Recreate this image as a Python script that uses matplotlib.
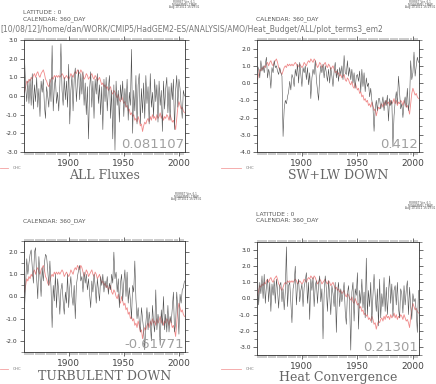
import numpy as np
import matplotlib
matplotlib.use("Agg")
import matplotlib.pyplot as plt
from matplotlib.ticker import MultipleLocator, FormatStrFormatter

years = list(range(1860, 2006))

ohc = [0.2, 0.5, 0.8, 0.7, 0.9, 0.8, 1.0, 0.9, 1.1, 1.2,
       1.0, 1.2, 1.3, 1.1, 1.0, 1.2, 1.3, 1.4, 1.2, 0.9,
       0.8, 0.6, 0.5, 0.7, 0.9, 1.0, 0.9, 1.1, 1.0, 1.1,
       1.0, 1.1, 1.0, 1.1, 1.2, 1.1, 0.9, 1.0, 1.1, 1.0,
       0.9, 1.0, 1.2, 1.1, 1.0, 1.2, 1.3, 1.2, 1.4, 1.3,
       1.2, 1.4, 1.3, 1.1, 0.9, 1.0, 1.2, 1.1, 0.9, 1.0,
       1.1, 1.2, 1.0, 0.9, 1.1, 1.0, 0.8, 0.9, 1.0, 0.8,
       0.6, 0.7, 0.5, 0.6, 0.4, 0.5, 0.3, 0.4, 0.5, 0.2,
       0.1, 0.3, 0.2, 0.0, -0.1, 0.1, -0.2, -0.3, 0.0, -0.2,
       -0.4, -0.3, -0.6, -0.5, -0.8, -0.7, -1.0, -0.9, -1.1, -1.0,
       -1.3, -1.2, -1.4, -1.1, -1.3, -1.6, -1.5, -1.9, -1.6, -1.4,
       -1.5, -1.3, -1.2, -1.4, -1.1, -1.3, -1.0, -1.2, -1.1, -1.3,
       -1.0, -1.2, -1.1, -0.9, -1.2, -1.0, -1.3, -1.1, -1.2, -1.0,
       -1.1, -1.3, -1.0, -1.2, -1.4, -1.3, -1.5, -1.8, -1.2, -0.6,
       -0.3, -0.5, -0.7, -0.6, -0.8, -0.9]

all_fluxes = [2.0, 0.5, -0.3, 0.8, -0.4, 0.9, -0.5, 1.2, -0.7, 0.6,
              -0.3, 1.0, -0.6, 0.4, -1.1, 0.8, 0.2, 0.9, -0.5, -1.2,
              0.5, 0.0, -0.6, 0.9, -0.3, 2.7, -0.8, 0.5, 1.0, -0.4,
              0.2, -0.8, 0.6, 2.8, 0.3, -0.5, 1.0, -0.2, 0.8, -0.6,
              1.7, -1.5, 0.3, 1.1, -0.8, 0.9, 1.5, -0.3, 0.7, 1.4,
              -0.2, 1.2, 0.1, 1.3, -0.5, 0.7, -1.0, 0.5, -2.3, 0.4,
              1.3, -0.6, 0.8, -1.2, 0.9, 0.1, 1.2, -0.4, 0.6, -1.0,
              0.5, -1.8, 0.9, -0.3, 1.0, -0.8, 0.4, 1.1, -1.2, 0.3,
              -2.3, 0.6, -2.9, 0.8, -0.5, 0.3, -1.4, 0.6, -0.2, 0.8,
              -1.1, 0.4, -0.6, 0.9, -1.3, 0.2, -0.5, 2.5, -2.0, 0.3,
              -0.8, 1.1, -1.5, 0.6, 1.2, -1.5, 0.4, -0.9, 0.7, -1.2,
              1.1, -0.4, 0.5, -1.5, 1.2, -0.6, 0.2, -1.1, 0.9, -0.3,
              0.6, -1.4, 0.8, -0.5, 0.3, -1.9, 0.8, -0.7, 0.4, 1.0,
              -0.9, 0.5, -1.3, 0.7, -0.2, 0.9, -1.8, 0.3, 1.1, -0.6,
              0.9, 0.4, -0.5, -1.2, 0.3, 0.0]

swlw_down = [1.0, 0.8, 0.3, 1.3, 0.7, 1.0, 0.6, 1.1, 1.5, 0.3,
             0.8, 0.5, -0.3, 0.9, 0.6, 1.3, 0.9, 1.0, 0.7, 0.5,
             0.9, 0.6, 0.4, -3.1, -1.5, -1.0, -1.2, -0.8, -0.5, 0.1,
             -0.4, 0.5, 0.3, -0.2, 0.8, 0.4, 1.1, 0.0, 1.2, 0.5,
             -0.2, 0.9, 0.6, 1.0, 0.2, 0.9, -0.1, 0.6, -0.9, 0.3,
             0.8, 0.5, 1.3, 0.2, -0.4, -1.0, 0.4, 1.0, 0.6, 1.1,
             0.3, 1.0, 0.6, 0.1, 0.8, 0.0, 0.9, 0.4, -0.2, 0.7,
             1.2, 0.3, 0.8, 0.1, 0.9, 0.5, 1.0, 0.2, 1.6, 0.6,
             0.5, 1.3, 0.4, 0.9, 0.2, 0.8, 0.0, 0.6, -0.3, 0.4,
             0.5, 0.1, 0.7, -0.5, 0.8, -0.2, 0.6, -0.5, 0.3, -0.2,
             0.0, -0.8, -0.3, -1.0, -1.4, -2.8, -1.5, -1.0, -1.6, -0.9,
             -0.9, -1.5, -1.2, -0.8, -1.6, -1.0, -1.3, -0.7, -2.2, -0.9,
             -1.3, -1.0, -3.7, -1.9, -1.1, -0.5, -1.2, 0.4, -0.6, -1.5,
             -1.2, -2.0, -1.2, -0.8, -1.4, -0.3, -1.6, -1.0, 1.3, 0.2,
             0.6, 1.8, 0.4, 1.0, 1.5, 1.2]

turbulent_down = [-0.5, 0.6, 1.7, 1.0, 1.5, 1.9, 2.1, 1.3, 0.6, 2.0,
                  2.2, 0.8, -0.1, 1.8, 0.9, 0.0, 1.3, 0.7, 1.5, 1.9,
                  1.8, 1.2, 0.5, 1.6, 0.4, -1.4, 0.5, -0.2, 1.0, -0.5,
                  0.8, 0.2, -0.8, 0.3, 0.6, -0.2, -0.8, 0.2, -0.3, 1.0,
                  -0.5, 0.4, 0.9, 0.0, -0.4, 0.5, -1.0, 0.5, 0.9, 1.2,
                  1.4, 0.7, 0.9, 0.2, 1.1, 0.6, 1.0, 0.3, 0.8, 0.1,
                  -0.5, 0.7, 0.2, 1.0, 0.5, -0.3, 0.8, 0.3, -0.2, 0.9,
                  0.5, 1.0, 0.2, 0.7, 0.4, 0.9, 0.1, 0.6, 0.3, 1.0,
                  0.6, 2.0, 0.8, 1.1, 0.2, 0.8, -0.5, 0.6, 1.0, -0.2,
                  0.6, 1.2, 0.0, 1.1, -0.3, 0.4, -0.2, -1.0, 0.5, 0.2,
                  1.6, -0.1, -1.0, -0.5, -1.1, -1.6, -0.5, -1.0, -1.5, -2.4,
                  -1.2, -0.5, -1.5, -0.7, -1.2, -2.0, -0.4, -1.2, -1.6, 0.3,
                  -1.5, -0.8, -1.2, -2.2, -0.6, -1.3, 0.0, -1.5, -0.8, -1.6,
                  -0.4, -1.6, -0.9, -1.2, -0.5, 0.2, -1.6, -1.2, 0.2, -0.6,
                  -1.7, 0.1, -0.3, 0.3, 0.4, 0.7]

heat_conv = [1.3, -0.4, 1.0, 0.3, 1.4, 0.0, 1.5, -0.3, 0.8, 1.2,
             -0.2, 1.0, -0.8, 0.9, 0.2, 1.1, -0.3, 1.2, 0.5, -0.6,
             0.8, 1.0, -0.2, 0.6, -0.7, 0.4, 3.2, -0.5, 0.8, 1.0,
             -0.3, -1.5, 0.6, 1.0, 2.0, -0.4, 0.8, 1.2, -0.2, 0.5,
             0.9, -0.5, 0.7, 1.1, 1.6, -0.3, 1.0, -1.3, 1.2, 0.5,
             1.3, -0.5, 0.8, 1.1, -0.3, 0.9, 1.4, -0.2, 0.6, -2.5,
             0.3, 1.4, 0.6, -0.8, 1.1, 0.2, -1.0, 0.8, 0.3, -0.5,
             1.0, -2.1, 0.4, 1.0, -0.5, 0.6, -0.2, 0.3, 1.0, -0.8,
             -1.6, 0.3, 0.8, -0.4, -3.2, 0.4, 1.0, -1.4, 0.6, 0.2,
             1.6, -1.9, 0.5, -0.3, 1.2, -0.6, 0.4, -1.2, 2.5, -1.0,
             0.5, -0.5, 1.0, -1.5, 0.2, 1.5, 0.2, -0.8, 0.6, -1.7,
             1.2, -1.2, 0.3, -0.5, 1.3, -0.8, 0.7, -1.0, 0.4, 1.4,
             -0.3, 0.9, -1.1, 0.5, 0.8, -0.4, 1.0, -0.6, -1.2, 0.6,
             0.3, -0.9, 0.8, -0.4, 0.5, 1.1, -1.0, 0.7, -0.5, -1.3,
             0.3, -0.2, 0.0, -0.8, -2.1, 0.5]

titles = ["ALL Fluxes", "SW+LW DOWN", "TURBULENT DOWN", "Heat Convergence"]
corrs = ["0.081107", "0.412", "-0.61771", "0.21301"]
series = [all_fluxes, swlw_down, turbulent_down, heat_conv]
ylims = [(-3.0, 3.0), (-4.0, 2.5), (-2.5, 2.5), (-3.5, 3.5)]
xticks = [1900, 1950, 2000]
legend_label = "OHC"
path_text = "[10/08/12]/home/dan/WORK/CMIP5/HadGEM2-ES/ANALYSIS/AMO/Heat_Budget/ALL/plot_terms3_em2"
ferret_lines = ["FERRET Ver. 6.1", "NOAA/PMEL TMAP", "Aug 10 2012 16:19:01"]

W, H = 436, 384
fig = plt.figure(figsize=(W / 100, H / 100), dpi=100)
fig.patch.set_facecolor("white")

def fx(px):
    return px / W

def fy(py):
    return 1 - py / H

boxes = [(24, 40, 185, 152), (257, 40, 419, 152), (24, 241, 185, 352), (257, 242, 419, 355)]
txtc = "#555555"

for i, (b, s, t, c, yl) in enumerate(zip(boxes, series, titles, corrs, ylims)):
    x0, y0, x1, y1 = b
    ax = fig.add_axes([fx(x0), fy(y1), fx(x1 - x0), (y1 - y0) / H])
    ax.plot(years, ohc, color="#f08a8a", lw=0.6, zorder=2)
    ax.plot(years, s, color="#505050", lw=0.4, zorder=3)
    ax.set_xlim(1859.5, 2005.5)
    ax.set_ylim(*yl)
    ax.set_xticks(xticks)
    ax.set_xticklabels([str(v) for v in xticks])
    ax.xaxis.set_minor_locator(MultipleLocator(2))
    ax.yaxis.set_major_locator(MultipleLocator(1.0))
    ax.yaxis.set_minor_locator(MultipleLocator(0.5))
    ax.yaxis.set_major_formatter(FormatStrFormatter("%.1f"))
    ax.tick_params(axis="y", which="major", labelsize=4.3, length=3, width=0.5,
                   direction="out", left=True, right=True, colors="#333333", labelcolor="#333333", pad=1.5)
    ax.tick_params(axis="y", which="minor", length=2, width=0.4, direction="out", left=True, right=True, colors="#333333")
    ax.tick_params(axis="x", which="major", labelsize=6.5, length=3, width=0.5,
                   direction="out", top=True, bottom=True, colors="#333333", labelcolor="#444444", pad=2)
    ax.tick_params(axis="x", which="minor", length=1.8, width=0.35, direction="out", top=True, bottom=True, colors="#333333")
    for sp in ax.spines.values():
        sp.set_linewidth(0.6)
        sp.set_color("#333333")
    ax.text(0.995, 0.01, c, transform=ax.transAxes, ha="right", va="bottom",
            fontsize=9.5, color="#a0a0a0", zorder=5)
    cx = (x0 + x1) / 2
    ty = 176 if i < 2 else 377
    fig.text(fx(cx), fy(ty), t, ha="center", va="center", fontsize=9,
             family="DejaVu Serif", color="#666666")
    lx0 = 0 if i % 2 == 0 else 221
    lx1 = 8 if i % 2 == 0 else 241
    ly = 168 if i < 2 else 369
    fig.add_artist(plt.Line2D([fx(lx0), fx(lx1)], [fy(ly), fy(ly)], transform=fig.transFigure,
                              color="#f4a0a0", lw=0.6))
    fig.text(fx(lx1 + 5), fy(ly), legend_label, ha="left", va="center", fontsize=2.8, color="#777777")

fig.text(fx(23), fy(13), "LATITUDE : 0", fontsize=4.3, color=txtc, va="center")
fig.text(fx(23), fy(19.5), "CALENDAR: 360_DAY", fontsize=4.3, color=txtc, va="center")
fig.text(fx(256), fy(19.5), "CALENDAR: 360_DAY", fontsize=4.3, color=txtc, va="center")
fig.text(fx(23), fy(221), "CALENDAR: 360_DAY", fontsize=4.3, color=txtc, va="center")
fig.text(fx(256), fy(214), "LATITUDE : 0", fontsize=4.3, color=txtc, va="center")
fig.text(fx(256), fy(220.5), "CALENDAR: 360_DAY", fontsize=4.3, color=txtc, va="center")
fig.text(fx(0), fy(30), path_text, fontsize=5.5, color="#777777", va="center", ha="left")

for (fxp, fyp) in [(184, 2), (420, 2), (186, 194), (420, 203)]:
    for k, line in enumerate(ferret_lines):
        fig.text(fx(fxp), fy(fyp + k * 2.6), line, fontsize=2.0, color="#555555",
                 ha="center", va="center")

fig.savefig("out.png", dpi=100, facecolor="white")
